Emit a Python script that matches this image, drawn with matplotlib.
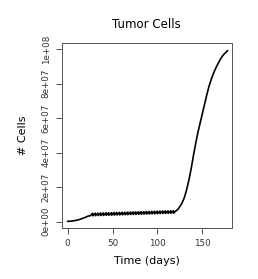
import matplotlib
matplotlib.use('Agg')
import matplotlib.pyplot as plt

# crecimiento inicial (dias, celulas)
early_days = [0, 4, 8, 12, 16, 20, 23]
early_cells = [2.0e5, 3.5e5, 6.5e5, 1.1e6, 1.8e6, 2.6e6, 3.3e6]

# zona con tratamiento: dientes de sierra (minimo, maximo)
saw_days = [25, 27.8, 28, 30.8, 31, 33.8, 34, 36.8, 37, 39.8, 40, 42.8, 43, 45.8,
            46, 48.8, 49, 51.8, 52, 54.8, 55, 57.8, 58, 60.8, 61, 63.8, 64, 66.8,
            67, 69.8, 70, 72.8, 73, 75.8, 76, 78.8, 79, 81.8, 82, 84.8, 85, 87.8,
            88, 90.8, 91, 93.8, 94, 96.8, 97, 99.8, 100, 102.8, 103, 105.8,
            106, 108.8, 109, 111.8, 112, 114.8, 115, 117.8, 118]
saw_cells = [3.4e6, 4.9e6, 3.45e6, 4.95e6, 3.5e6, 5.0e6, 3.55e6, 5.05e6, 3.6e6, 5.1e6,
             3.65e6, 5.15e6, 3.7e6, 5.2e6, 3.75e6, 5.25e6, 3.8e6, 5.3e6, 3.85e6, 5.35e6,
             3.9e6, 5.4e6, 3.95e6, 5.45e6, 4.0e6, 5.5e6, 4.05e6, 5.55e6, 4.1e6, 5.6e6,
             4.15e6, 5.65e6, 4.2e6, 5.7e6, 4.25e6, 5.75e6, 4.3e6, 5.8e6, 4.35e6, 5.85e6,
             4.4e6, 5.9e6, 4.45e6, 5.95e6, 4.5e6, 6.0e6, 4.55e6, 6.05e6, 4.6e6, 6.1e6,
             4.65e6, 6.15e6, 4.7e6, 6.2e6, 4.75e6, 6.25e6, 4.8e6, 6.3e6, 4.85e6, 6.35e6,
             4.9e6, 6.4e6, 4.95e6]

# crecimiento sin control
late_days = [120, 122.5, 125, 127.5, 130, 132.5, 135, 137.5, 140, 142.5, 145, 147.5,
             150, 152.5, 155, 157.5, 160, 162.5, 165, 167.5, 170, 172.5, 175, 178]
late_cells = [6.0e6, 7.0e6, 8.8e6, 1.1e7, 1.4e7, 1.85e7, 2.4e7, 3.05e7, 3.8e7, 4.5e7,
              5.15e7, 5.7e7, 6.25e7, 6.8e7, 7.35e7, 7.85e7, 8.25e7, 8.6e7, 8.9e7,
              9.15e7, 9.4e7, 9.6e7, 9.75e7, 9.9e7]

days = early_days + saw_days + late_days
cells = early_cells + saw_cells + late_cells

x_ticks = [0, 50, 100, 150]
y_ticks = [0, 2e7, 4e7, 6e7, 8e7, 1e8]
y_labels = ['0e+00', '2e+07', '4e+07', '6e+07', '8e+07', '1e+08']

fig = plt.figure(figsize=(2.58, 2.79), dpi=100)
ax = fig.add_axes([0.239, 0.183, 0.660, 0.663])
ax.plot(days, cells, color='black', linewidth=1.2)

ax.set_xlim(-6.7, 183)
ax.set_ylim(-3.6e6, 1.035e8)
ax.set_xticks(x_ticks)
ax.set_xticklabels([str(t) for t in x_ticks], fontsize=6.3)
ax.set_yticks(y_ticks)
ax.set_yticklabels(y_labels, fontsize=6.3, rotation=90, va='center')
ax.tick_params(direction='out', length=4, width=0.6, pad=4, colors='#333333')
for s in ax.spines.values():
    s.set_linewidth(0.7)
    s.set_color('#555555')

ax.set_title('Tumor Cells', fontsize=8.5, pad=11)
ax.set_xlabel('Time (days)', fontsize=8, labelpad=6)
ax.set_ylabel('# Cells', fontsize=8, labelpad=10)

fig.savefig('out.png', dpi=100)
